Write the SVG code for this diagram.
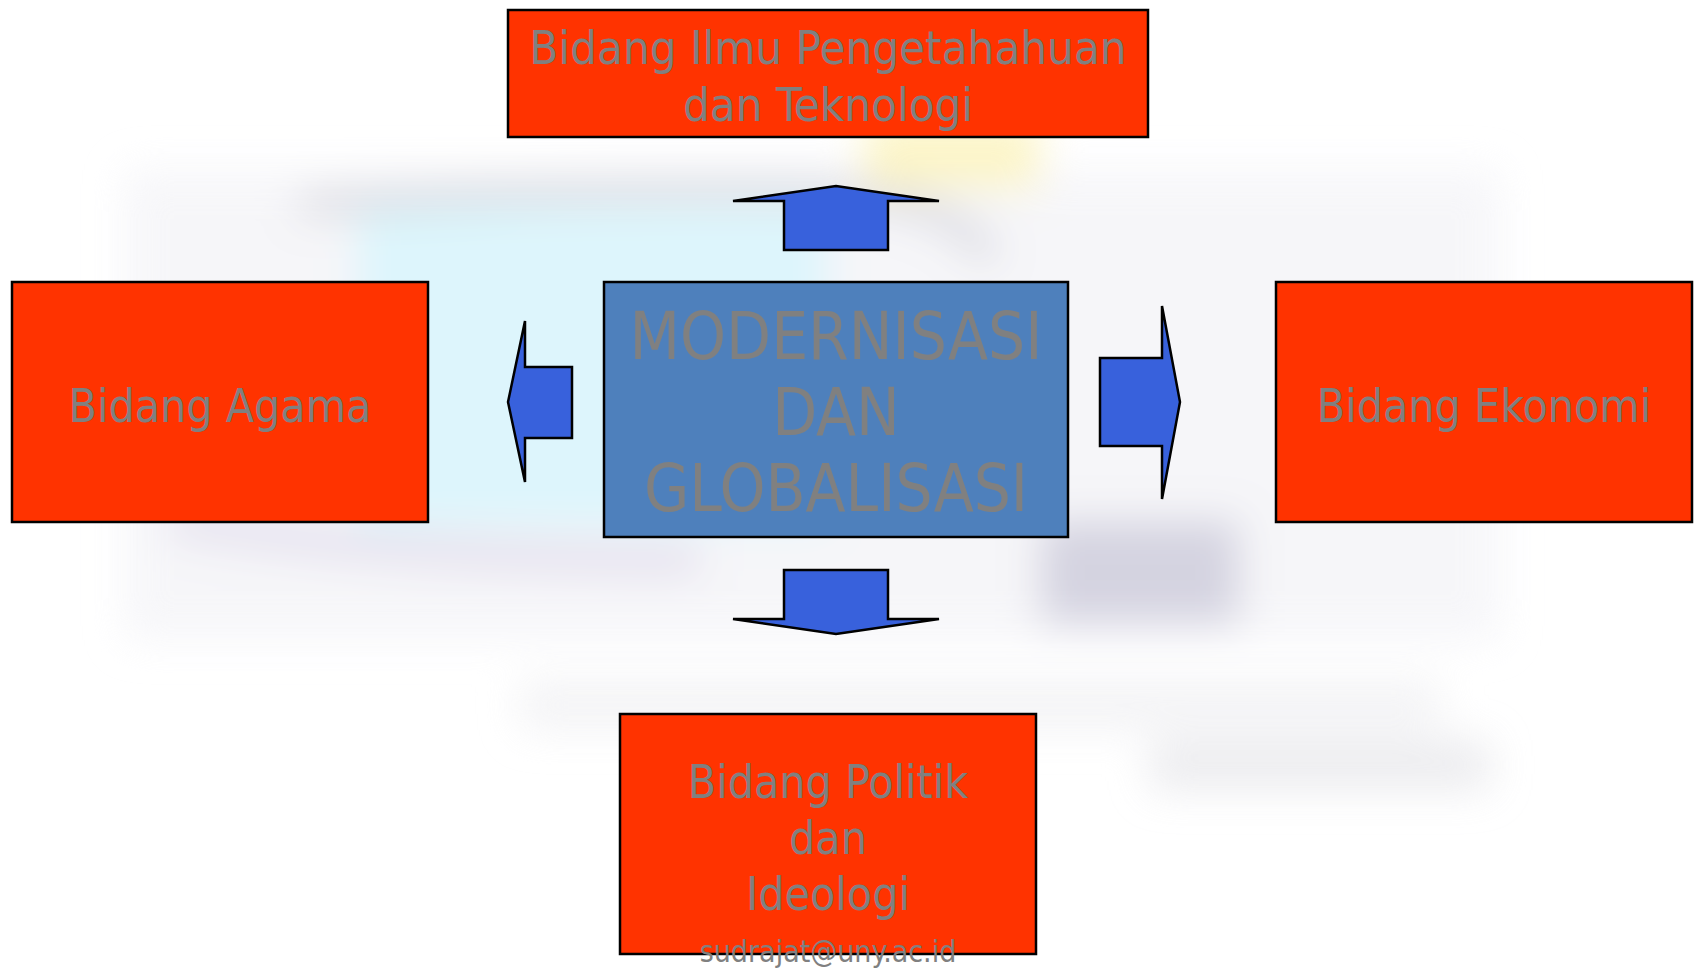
<svg xmlns="http://www.w3.org/2000/svg" width="1696" height="969" viewBox="0 0 1696 969">
<style>
.box{fill:#ff3300;stroke:#000;stroke-width:2.5}
.center{fill:#4e80bc;stroke:#000;stroke-width:2.5}
.arrow{fill:#3861dc;stroke:#000;stroke-width:2.5;stroke-linejoin:miter}
.t{font-family:"DejaVu Sans Condensed","DejaVu Sans",sans-serif;font-stretch:condensed;fill:#808080;text-anchor:middle}
</style>
<defs>
<filter id="blur" x="-20%" y="-20%" width="140%" height="140%"><feGaussianBlur stdDeviation="20"/></filter>
</defs>
<rect width="1696" height="969" fill="#ffffff"/>
<g id="background" filter="url(#blur)" opacity="0.7">
<rect x="125" y="170" width="1375" height="470" fill="#f3f3f7"/>
<rect x="357" y="205" width="470" height="320" fill="#cff2fb"/>
<path d="M300,205 Q550,185 820,190 Q960,200 990,260" fill="none" stroke="#c4c4cf" stroke-width="22"/>
<rect x="865" y="119" width="175" height="70" fill="#fbf1b0"/>
<path d="M170,520 Q400,560 700,560" fill="none" stroke="#d8d2e6" stroke-width="30"/>
<rect x="1040" y="520" width="200" height="105" fill="#c3c1d4"/>
<rect x="520" y="680" width="920" height="50" fill="#efeff2"/>
<rect x="1150" y="740" width="340" height="50" fill="#e4e4e8"/>
</g>
<g id="connectors">
<polygon class="arrow" points="733,201 836,186 939,201 888,201 888,250 784,250 784,201"/>
<polygon class="arrow" points="784,570 888,570 888,619 939,619 836,634 733,619 784,619"/>
<polygon class="arrow" points="572,367 572,438 525,438 525,482 508,402 525,321 525,367"/>
<polygon class="arrow" points="1100,358 1162,358 1162,306 1180,402 1162,499 1162,446 1100,446"/>
</g>
<g id="node-iptek">
<rect class="box" x="508" y="10" width="640" height="127"/>
<text class="t" x="828" y="64" font-size="47">Bidang Ilmu Pengetahahuan</text>
<text class="t" x="828" y="121" font-size="47">dan Teknologi</text>
</g>
<g id="node-agama">
<rect class="box" x="12" y="282" width="416" height="240"/>
<text class="t" x="220" y="422" font-size="46">Bidang Agama</text>
</g>
<g id="node-ekonomi">
<rect class="box" x="1276" y="282" width="416" height="240"/>
<text class="t" x="1484" y="422" font-size="46">Bidang Ekonomi</text>
</g>
<g id="node-center">
<rect class="center" x="604" y="282" width="464" height="255"/>
<text class="t" x="836" y="359" font-size="65">MODERNISASI</text>
<text class="t" x="836" y="435" font-size="65">DAN</text>
<text class="t" x="836" y="511" font-size="65">GLOBALISASI</text>
</g>
<g id="node-politik">
<rect class="box" x="620" y="714" width="416" height="240"/>
<text class="t" x="828" y="798" font-size="46">Bidang Politik</text>
<text class="t" x="828" y="854" font-size="46">dan</text>
<text class="t" x="828" y="910" font-size="46">Ideologi</text>
</g>
<text class="t" x="828" y="962" font-size="30">sudrajat@uny.ac.id</text>
</svg>
